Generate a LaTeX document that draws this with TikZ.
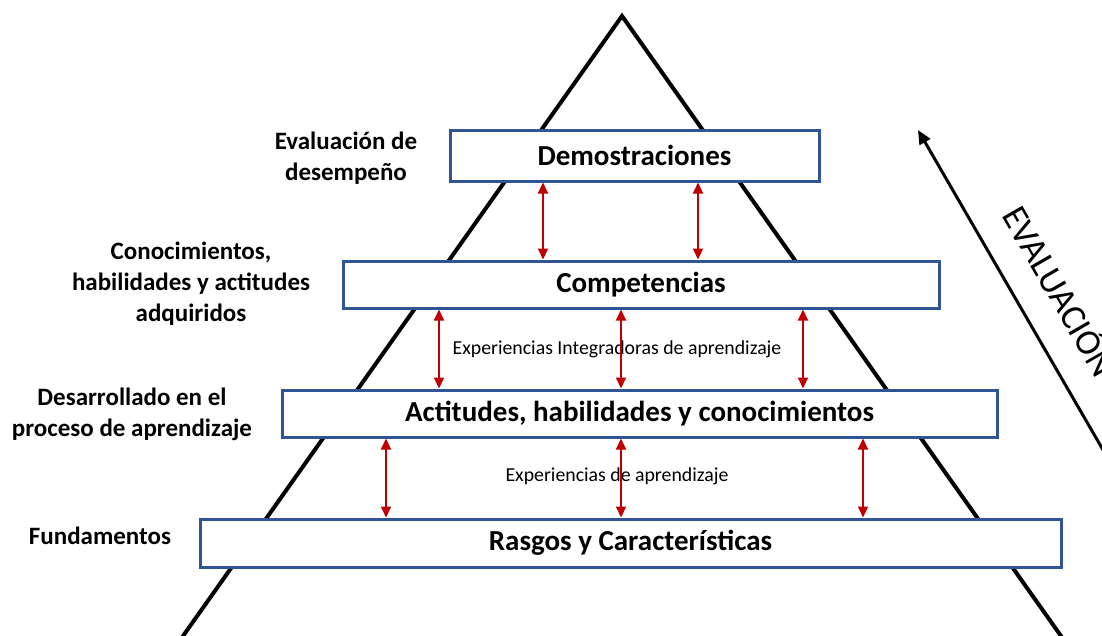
\documentclass[tikz,border=0pt]{standalone}
\usepackage{fontspec}
\setmainfont{Carlito}
\usepackage{xcolor}
\usetikzlibrary{arrows.meta, calc}
\definecolor{boxblue}{HTML}{2F5597}
\definecolor{linkred}{HTML}{C00000}
\tikzset{
  level/.style={draw=boxblue, line width=3pt, fill=white, inner sep=0pt, font=\fontsize{29}{33}\selectfont\bfseries},
  sidelabel/.style={align=center, inner sep=0pt, font=\fontsize{25}{31}\selectfont\bfseries},
  linklabel/.style={inner sep=0pt, font=\fontsize{19.8}{22}\selectfont},
  link/.style={linkred, line width=2pt, {Triangle[length=11pt,width=10pt]}-{Triangle[length=11pt,width=10pt]}},
}

\begin{document}
\begin{tikzpicture}[x=1pt, y=-1pt]
  \useasboundingbox (0, 0) rectangle (1102, 635);
  \clip (0, 0) rectangle (1102, 635);

  \coordinate (apex) at (622, 16);
  \coordinate (leftfoot) at (166, 660);
  \coordinate (rightfoot) at (1078, 660);
  \draw [line width=4pt, line join=miter] (leftfoot) -- (apex) -- (rightfoot);

  \node [level, minimum width=369pt, minimum height=51pt] (demo) at (634.5, 155.5) {Demostraciones};
  \node [level, minimum width=596pt, minimum height=47pt] (comp) at (641, 284.5) {Competencias};
  \node [level, minimum width=715pt, minimum height=47pt] (act) at (639.5, 413.5) {Actitudes, habilidades y conocimientos};
  \node [level, minimum width=861pt, minimum height=48pt] (rasgos) at (630.5, 543) {Rasgos y Características};

  \node [sidelabel] (evaldes) at (346, 158) {Evaluación de\\desempeño};
  \node [sidelabel] (conoc) at (191, 284) {Conocimientos,\\habilidades y actitudes\\adquiridos};
  \node [sidelabel] (desarr) at (132, 414) {Desarrollado en el\\proceso de aprendizaje};
  \node [sidelabel] (fund) at (100, 536) {Fundamentos};

  \node [linklabel] (expint) at (617, 349) {Experiencias Integradoras de aprendizaje};
  \node [linklabel] (expapr) at (617, 476) {Experiencias de aprendizaje};

  \draw [link] (543, 0 |- demo.south) -- (543, 0 |- comp.north);
  \draw [link] (698, 0 |- demo.south) -- (698, 0 |- comp.north);

  \draw [link] (439, 0 |- comp.south) -- (439, 0 |- act.north);
  \draw [link] (621, 0 |- comp.south) -- (621, 0 |- act.north);
  \draw [link] (803, 0 |- comp.south) -- (803, 0 |- act.north);

  \draw [link] (386, 0 |- act.south) -- (386, 0 |- rasgos.north);
  \draw [link] (621, 0 |- act.south) -- (621, 0 |- rasgos.north);
  \draw [link] (863, 0 |- act.south) -- (863, 0 |- rasgos.north);

  \coordinate (evalbot) at (1110, 462);
  \coordinate (evaltop) at (918, 130);
  \draw [line width=3pt, -{Triangle[length=14pt,width=12pt]}] (evalbot) -- (evaltop);
  \node [anchor=base west, inner sep=0pt, rotate=-60, font=\fontsize{36}{40}\selectfont] (evaltxt) at (1001, 215) {EVALUACIÓN};
\end{tikzpicture}
\end{document}
